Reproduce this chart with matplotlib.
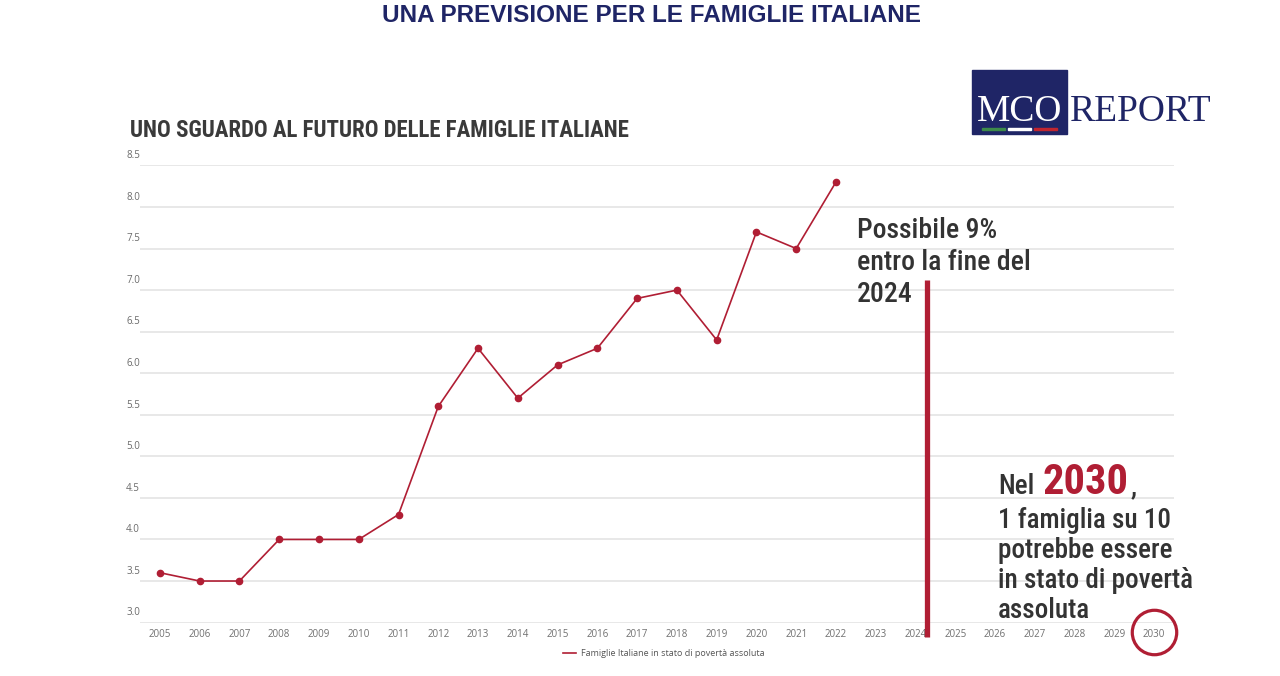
import matplotlib
matplotlib.use("Agg")
import matplotlib.pyplot as plt
import matplotlib.transforms as mtransforms
from matplotlib import font_manager
from matplotlib.patches import Rectangle

# --- data -------------------------------------------------------------
years = list(range(2005, 2031))
data_years = list(range(2005, 2023))
poverty = [3.6, 3.5, 3.5, 4.0, 4.0, 4.0, 4.3, 5.6, 6.3, 5.7,
           6.1, 6.3, 6.9, 7.0, 6.4, 7.7, 7.5, 8.3]
y_ticks = [3.0, 3.5, 4.0, 4.5, 5.0, 5.5, 6.0, 6.5, 7.0, 7.5, 8.0, 8.5]
marker_year = 2024.3
highlight_year = 2030

title = "UNA PREVISIONE PER LE FAMIGLIE ITALIANE"
subtitle = "UNO SGUARDO AL FUTURO DELLE FAMIGLIE ITALIANE"
legend_label = "Famiglie Italiane in stato di povertà assoluta"
note_2024 = ["Possibile 9%", "entro la fine del", "2024"]
note_2030 = ["1 famiglia su 10", "potrebbe essere", "in stato di povertà", "assoluta"]

RED = "#b01e34"
NAVY = "#1f2566"
DARK = "#333333"
GRID = "#e4e4e4"

installed = {f.name for f in font_manager.fontManager.ttflist}


def pick(*names):
    for n in names:
        if n in installed:
            return n
    return "DejaVu Sans"


NARROW = pick("Roboto Condensed", "Liberation Sans Narrow", "Roboto")
SANS = pick("Open Sans", "DejaVu Sans")
SERIF = pick("Liberation Serif", "DejaVu Serif")
HEAD = pick("Liberation Sans", "DejaVu Sans")

W, H = 1280, 676


def fx(x):
    return x / W


def fy(y):
    return 1 - y / H


fig = plt.figure(figsize=(12.8, 6.76), dpi=100)
ax = fig.add_axes([fx(140), fy(623), (1174 - 140) / W, (623 - 165) / H])

ax.plot(data_years, poverty, color=RED, lw=1.2, marker="o", ms=4.5,
        label=legend_label, zorder=3)

ax.set_xlim(2004.5, 2030.5)
ax.set_ylim(2.995, 8.505)
ax.set_xticks(years)
ax.set_xticklabels([str(y) for y in years], fontsize=7, color="#707070",
                   family=SANS)
ax.tick_params(axis="x", length=0, pad=4)
ax.set_yticks(y_ticks)
ax.set_yticklabels([])
ax.tick_params(axis="y", length=0)
ax.grid(axis="y", color=GRID, lw=1.2)
ax.set_axisbelow(True)
for s in ax.spines.values():
    s.set_visible(False)

# y labels sit just above their gridline, left of the plot
trans = mtransforms.blended_transform_factory(ax.transAxes, ax.transData)
for v in y_ticks:
    ax.annotate(f"{v:.1f}", xy=(-0.0135, v), xycoords=trans,
                xytext=(0, 3), textcoords="offset points",
                fontsize=7, color="#6a6a6a", family=SANS,
                ha="left", va="bottom", annotation_clip=False)

# vertical marker for 2024 and circle on 2030
ax.plot([marker_year, marker_year], [2.83, 7.12], color=RED, lw=3.8,
        clip_on=False, solid_capstyle="butt", zorder=4)
ax.plot([highlight_year], [2.89], marker="o", ms=32, mfc="none", mec=RED,
        mew=2.3, clip_on=False, zorder=4)

leg = ax.legend(loc="center", bbox_to_anchor=(fx(664), fy(654)),
                bbox_transform=fig.transFigure, frameon=False,
                handlelength=1.4, handletextpad=0.6,
                prop={"family": SANS, "size": 6.5})
for line in leg.get_lines():
    line.set_marker("")
for t in leg.get_texts():
    t.set_color("#555555")

# titles
fig.text(fx(651), fy(15), title, ha="center", va="center", fontsize=17.5,
         fontweight="bold", color=NAVY, family=HEAD)
fig.text(fx(130), fy(137), subtitle, ha="left", va="baseline", fontsize=16.5,
         fontweight="bold", color="#3a3a3a", family=NARROW)

# annotations
for i, line in enumerate(note_2024):
    fig.text(fx(857), fy(238 + 32 * i), line, ha="left", va="baseline",
             fontsize=20, color=DARK, family=NARROW, fontweight="medium")

fig.text(fx(998), fy(494), "Nel", ha="left", va="baseline", fontsize=19.5,
         color=DARK, family=NARROW, fontweight="medium")
fig.text(fx(1042), fy(494), "2030", ha="left", va="baseline", fontsize=30.5,
         color=RED, family=NARROW, fontweight="bold")
fig.text(fx(1131), fy(494), ",", ha="left", va="baseline", fontsize=19.5,
         color=DARK, family=NARROW, fontweight="medium")
for i, line in enumerate(note_2030):
    fig.text(fx(998), fy(528 + 30 * i), line, ha="left", va="baseline",
             fontsize=19.5, color=DARK, family=NARROW, fontweight="medium")

# logo
fig.patches.append(Rectangle((fx(972), fy(134)), (1067 - 972) / W, 64 / H,
                             transform=fig.transFigure, color=NAVY,
                             zorder=1))
fig.text(fx(1019.5), fy(121), "MCO", ha="center", va="baseline",
         fontsize=27, color="white", family=SERIF, zorder=2)
for x0, c in [(982, "#3d8a4a"), (1008, "#ffffff"), (1034, "#c0252f")]:
    fig.patches.append(Rectangle((fx(x0), fy(130)), 23 / W, 2 / H,
                                 transform=fig.transFigure, color=c,
                                 zorder=2))
fig.text(fx(1141), fy(121), "REPORT", ha="center", va="baseline",
         fontsize=27, color=NAVY, family=SERIF)

fig.savefig("out.png", dpi=100)
